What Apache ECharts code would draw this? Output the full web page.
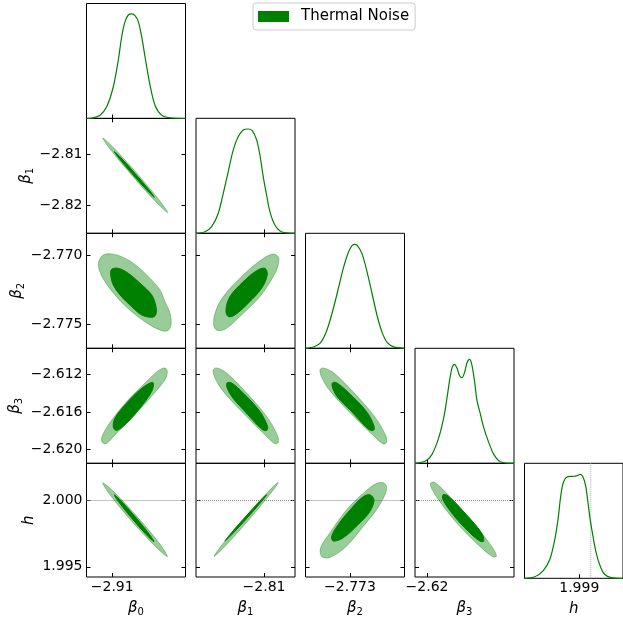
<!DOCTYPE html>
<html><head><meta charset="utf-8">
<script src="https://cdn.jsdelivr.net/npm/echarts@6/dist/echarts.min.js"></script>
<style>html,body{margin:0;padding:0;background:#fff}#c{width:623px;height:618px}</style>
</head><body><div id="c"></div>
<script>
// ---------- data ----------
const seriesName = 'Thermal Noise';
const paramNames = ['{g|β}{s|0}', '{g|β}{s|1}', '{g|β}{s|2}', '{g|β}{s|3}', '{g|h}'];
const b0Range = [-2.91257, -2.90267];
const b1Range = [-2.8254, -2.8030];
const b2Range = [-2.77675, -2.76841];
const b3Range = [-2.62150, -2.60917];
const hRange = [1.99423, 2.00281];
const hTruth = 2.0;

const b0TicksX = [-2.91], b0LabelsX = ['−2.91'];
const b1TicksX = [-2.81], b1LabelsX = ['−2.81'];
const b1TicksY = [-2.81, -2.82], b1LabelsY = ['−2.81', '−2.82'];
const b2TicksX = [-2.773], b2LabelsX = ['−2.773'];
const b2TicksY = [-2.770, -2.775], b2LabelsY = ['−2.770', '−2.775'];
const b3TicksX = [-2.62], b3LabelsX = ['−2.62'];
const b3TicksY = [-2.612, -2.616, -2.620], b3LabelsY = ['−2.612', '−2.616', '−2.620'];
const hTicksX = [1.999], hLabelsX = ['1.999'];
const hTicksY = [2.000, 1.995], hLabelsY = ['2.000', '1.995'];

// 1D marginal densities (relative)
const b0Dens = [[-2.91257,0],[-2.91189,0.006],[-2.91122,0.029],[-2.91055,0.102],[-2.90989,0.276],[-2.90939,0.508],[-2.90905,0.711],[-2.90872,0.842],[-2.90839,0.900],[-2.90805,0.909],[-2.90772,0.894],[-2.90739,0.842],[-2.90705,0.711],[-2.90672,0.537],[-2.90622,0.290],[-2.90572,0.116],[-2.90505,0.029],[-2.90422,0.006],[-2.90267,0]];
const b1Dens = [[-2.82540,0],[-2.82337,0.014],[-2.82185,0.058],[-2.82036,0.174],[-2.81923,0.348],[-2.81810,0.536],[-2.81697,0.725],[-2.81584,0.841],[-2.81471,0.899],[-2.81358,0.907],[-2.81268,0.893],[-2.81168,0.812],[-2.81094,0.681],[-2.81019,0.493],[-2.80943,0.333],[-2.80868,0.188],[-2.80755,0.072],[-2.80604,0.014],[-2.80303,0]];
const b2Dens = [[-2.77675,0],[-2.77603,0.014],[-2.77547,0.049],[-2.77492,0.165],[-2.77435,0.368],[-2.77393,0.542],[-2.77351,0.716],[-2.77309,0.846],[-2.77267,0.904],[-2.77239,0.896],[-2.77197,0.817],[-2.77155,0.658],[-2.77113,0.470],[-2.77071,0.281],[-2.77029,0.136],[-2.76986,0.049],[-2.76930,0.012],[-2.76841,0]];
const b3Dens = [[-2.62150,0],[-2.62020,0.020],[-2.61938,0.078],[-2.61854,0.223],[-2.61792,0.397],[-2.61751,0.571],[-2.61717,0.730],[-2.61688,0.832],[-2.61659,0.861],[-2.61626,0.826],[-2.61593,0.759],[-2.61564,0.745],[-2.61534,0.788],[-2.61502,0.875],[-2.61472,0.904],[-2.61443,0.861],[-2.61409,0.716],[-2.61377,0.542],[-2.61335,0.426],[-2.61294,0.310],[-2.61231,0.180],[-2.61169,0.078],[-2.61086,0.014],[-2.60917,0]];
const hDens = [[1.99423,0],[1.99513,0.014],[1.99585,0.064],[1.99644,0.165],[1.99687,0.339],[1.99715,0.513],[1.99735,0.687],[1.99753,0.803],[1.99774,0.861],[1.99802,0.884],[1.99845,0.887],[1.99874,0.890],[1.99909,0.904],[1.99932,0.884],[1.99956,0.803],[1.99976,0.658],[1.99995,0.513],[2.00019,0.368],[2.00047,0.223],[2.00082,0.107],[2.00120,0.035],[2.00178,0.006],[2.00281,0]];

// 2D credible contours (outer = 95%, inner = 68%), vertices
const b0b1Outer = [[-2.91095,-2.80683],[-2.90984,-2.80878],[-2.90751,-2.81378],[-2.90529,-2.81895],[-2.90445,-2.82136],[-2.90556,-2.81942],[-2.90789,-2.81442],[-2.91011,-2.80924]];
const b0b1Inner = [[-2.90979,-2.8095],[-2.90912,-2.8107],[-2.9077,-2.81378],[-2.90632,-2.81693],[-2.90579,-2.81837],[-2.90645,-2.81716],[-2.90788,-2.81409],[-2.90925,-2.81094]];
const b0b2Outer = [[-2.91135,-2.77047],[-2.91089,-2.76998],[-2.91005,-2.76991],[-2.90905,-2.77011],[-2.90789,-2.77058],[-2.90655,-2.77143],[-2.90522,-2.77252],[-2.90472,-2.77337],[-2.90422,-2.77421],[-2.90412,-2.77506],[-2.90445,-2.77547],[-2.90505,-2.77547],[-2.90605,-2.77513],[-2.90722,-2.77457],[-2.90855,-2.77377],[-2.90972,-2.77288],[-2.91072,-2.77192],[-2.91129,-2.77107]];
const b0b2Inner = [[-2.91005,-2.77102],[-2.90939,-2.77095],[-2.90839,-2.77131],[-2.90722,-2.77203],[-2.90605,-2.77288],[-2.90562,-2.77373],[-2.90565,-2.77433],[-2.90605,-2.7745],[-2.90705,-2.77433],[-2.90805,-2.77373],[-2.90922,-2.77288],[-2.90989,-2.77216],[-2.91015,-2.77143]];
const b1b2Outer = [[-2.80680,-2.77011],[-2.80830,-2.76993],[-2.81168,-2.77058],[-2.81546,-2.77167],[-2.81923,-2.77300],[-2.82111,-2.77421],[-2.82133,-2.77518],[-2.82036,-2.77547],[-2.81846,-2.77529],[-2.81471,-2.77421],[-2.81094,-2.77300],[-2.80793,-2.77156],[-2.80680,-2.77071]];
const b1b2Inner = [[-2.80981,-2.77095],[-2.81168,-2.77112],[-2.81471,-2.77192],[-2.81772,-2.77300],[-2.81862,-2.77397],[-2.81810,-2.77445],[-2.81659,-2.77433],[-2.81358,-2.77348],[-2.81055,-2.77240],[-2.80929,-2.77143]];
const b0b3Outer = [[-2.90472,-2.61128],[-2.90449,-2.61165],[-2.90472,-2.61254],[-2.90622,-2.61450],[-2.90789,-2.61647],[-2.90955,-2.61825],[-2.91062,-2.61940],[-2.91105,-2.61915],[-2.91095,-2.61844],[-2.90989,-2.61665],[-2.90822,-2.61450],[-2.90655,-2.61272],[-2.90539,-2.61157]];
const b0b3Inner = [[-2.90589,-2.61289],[-2.90605,-2.61379],[-2.90722,-2.61557],[-2.90855,-2.61718],[-2.90955,-2.61798],[-2.90989,-2.61761],[-2.90972,-2.61665],[-2.90855,-2.61504],[-2.90722,-2.61361],[-2.90622,-2.61289]];
const b1b3Outer = [[-2.82149,-2.61147],[-2.82072,-2.61128],[-2.81846,-2.61182],[-2.81394,-2.61397],[-2.80943,-2.61647],[-2.80703,-2.61844],[-2.80680,-2.61926],[-2.80755,-2.61940],[-2.80981,-2.61844],[-2.81471,-2.61611],[-2.81923,-2.61379],[-2.82111,-2.61236]];
const b1b3Inner = [[-2.81833,-2.61286],[-2.81733,-2.61289],[-2.81471,-2.61397],[-2.81094,-2.61594],[-2.80920,-2.61755],[-2.80943,-2.61798],[-2.81055,-2.61783],[-2.81433,-2.61594],[-2.81733,-2.61433],[-2.81846,-2.61326]];
const b2b3Outer = [[-2.77553,-2.61147],[-2.77524,-2.61128],[-2.77435,-2.61182],[-2.77265,-2.61397],[-2.77094,-2.61647],[-2.77002,-2.61844],[-2.76992,-2.61926],[-2.77023,-2.61940],[-2.77111,-2.61844],[-2.77296,-2.61611],[-2.77465,-2.61379],[-2.77536,-2.61236]];
const b2b3Inner = [[-2.77446,-2.61286],[-2.77410,-2.61289],[-2.77309,-2.61397],[-2.77162,-2.61594],[-2.77096,-2.61755],[-2.77104,-2.61798],[-2.77146,-2.61783],[-2.77288,-2.61594],[-2.77410,-2.61433],[-2.77450,-2.61326]];
const b0hOuter = [[-2.91095,2.00134],[-2.90979,2.00063],[-2.90746,1.99873],[-2.90527,1.99676],[-2.90449,1.99578],[-2.90565,1.99652],[-2.90799,1.99839],[-2.91017,2.00039]];
const b0hInner = [[-2.90979,2.00043],[-2.90910,1.99996],[-2.90767,1.99875],[-2.90632,1.99749],[-2.90582,1.99690],[-2.90651,1.99736],[-2.90794,1.99857],[-2.90929,1.99983]];
const b1hOuter = [[-2.82133,1.99578],[-2.81887,1.99654],[-2.81367,1.99846],[-2.80870,2.00045],[-2.80680,2.00137],[-2.80926,2.00061],[-2.81446,1.99869],[-2.81943,1.99670]];
const b1hInner = [[-2.81885,1.99694],[-2.81731,1.99743],[-2.81397,1.99863],[-2.81072,1.99987],[-2.80943,2.00043],[-2.81096,1.99994],[-2.81431,1.99873],[-2.81755,1.99750]];
const b2hOuter = [[-2.77020,2.00134],[-2.76992,2.00105],[-2.77006,2.00043],[-2.77076,1.99931],[-2.77188,1.99806],[-2.77328,1.99657],[-2.77469,1.99570],[-2.77539,1.99578],[-2.77547,1.99645],[-2.77469,1.99757],[-2.77328,1.99931],[-2.77188,2.00055],[-2.77076,2.00130]];
const b2hInner = [[-2.77132,2.00043],[-2.77098,2.00005],[-2.77132,1.99918],[-2.77231,1.99819],[-2.77357,1.99719],[-2.77441,1.99694],[-2.77454,1.99731],[-2.77399,1.99819],[-2.77286,1.99943],[-2.77188,2.00030]];
const b3hOuter = [[-2.61958,2.00130],[-2.61904,2.00137],[-2.61717,2.00030],[-2.61427,1.99831],[-2.61198,1.99657],[-2.61135,1.99582],[-2.61178,1.99575],[-2.61302,1.99632],[-2.61593,1.99806],[-2.61842,1.99993],[-2.61945,2.00093]];
const b3hInner = [[-2.61801,2.00043],[-2.61738,2.00035],[-2.61509,1.99893],[-2.61322,1.99757],[-2.61294,1.99694],[-2.61343,1.99694],[-2.61489,1.99769],[-2.61676,1.99893],[-2.61801,2.00005]];

// ---------- layout / style ----------
const colLeft = [86.5, 196, 305.5, 415, 524.5];
const rowTop = [3.5, 118.3, 233.3, 348.3, 463.3];
const W = 99, H = 115;
const yNameGap = [0, 51, 60, 62, 48];
const ranges = [b0Range, b1Range, b2Range, b3Range, hRange];
const xTicks = [b0TicksX, b1TicksX, b2TicksX, b3TicksX, hTicksX];
const xLabels = [b0LabelsX, b1LabelsX, b2LabelsX, b3LabelsX, hLabelsX];
const yTicks = [null, b1TicksY, b2TicksY, b3TicksY, hTicksY];
const yLabels = [null, b1LabelsY, b2LabelsY, b3LabelsY, hLabelsY];
const dens = [b0Dens, b1Dens, b2Dens, b3Dens, hDens];
const contours = {
  '1,0': [b0b1Outer, b0b1Inner],
  '2,0': [b0b2Outer, b0b2Inner], '2,1': [b1b2Outer, b1b2Inner],
  '3,0': [b0b3Outer, b0b3Inner], '3,1': [b1b3Outer, b1b3Inner], '3,2': [b2b3Outer, b2b3Inner],
  '4,0': [b0hOuter, b0hInner], '4,1': [b1hOuter, b1hInner], '4,2': [b2hOuter, b2hInner], '4,3': [b3hOuter, b3hInner]
};
const FONT = 'DejaVu Sans';
const lab = (ticks, labels) => v => {
  for (let k = 0; k < ticks.length; k++) if (Math.abs(ticks[k] - v) < 1e-9) return labels[k];
  return '';
};
const nameStyle = {
  fontFamily: FONT, fontSize: 15, color: '#000',
  rich: {
    g: { fontFamily: FONT, fontSize: 15, fontStyle: 'italic', color: '#000', lineHeight: 18 },
    s: { fontFamily: FONT, fontSize: 10, color: '#000', lineHeight: 8, verticalAlign: 'bottom' }
  }
};
const tick = vals => ({ show: true, inside: true, length: 4, customValues: vals, lineStyle: { color: '#000', width: 1 } });
const labelStyle = { fontFamily: FONT, fontSize: 14, color: '#000' };

const grids = [], xAxes = [], yAxes = [], series = [];
let legendAssigned = false;
for (let i = 0; i < 5; i++) {
  for (let j = 0; j <= i; j++) {
    const g = grids.length;
    grids.push({ left: colLeft[j], top: rowTop[i], width: W, height: H, show: true,
      borderColor: '#000', borderWidth: 1, backgroundColor: 'transparent' });
    const xi = xAxes.length;
    xAxes.push({ type: 'value', gridIndex: g, position: 'bottom', min: ranges[j][0], max: ranges[j][1],
      axisLine: { show: false }, splitLine: { show: false },
      axisTick: tick(xTicks[j]),
      axisLabel: { show: i === 4, customValues: xTicks[j], formatter: lab(xTicks[j], xLabels[j]), margin: 3, ...labelStyle },
      name: i === 4 ? paramNames[j] : '', nameLocation: 'middle', nameGap: 22, nameTextStyle: nameStyle });
    const yi = yAxes.length;
    if (i === j) {
      yAxes.push({ type: 'value', gridIndex: g, min: 0, max: 1, show: false });
      series.push({ type: 'line', xAxisIndex: xi, yAxisIndex: yi, data: dens[i], smooth: 0.3,
        symbol: 'none', silent: true, lineStyle: { color: '#008000', width: 1.2 } });
      if (i === 4) {
        series.push({ type: 'line', xAxisIndex: xi, yAxisIndex: yi, data: [[hTruth, 0], [hTruth, 1]],
          symbol: 'none', silent: true, z: 1, lineStyle: { color: '#aaa', width: 1, type: 'dotted' } });
      }
    } else {
      xAxes.push({ type: 'value', gridIndex: g, position: 'top', min: ranges[j][0], max: ranges[j][1],
        axisLine: { show: false }, splitLine: { show: false }, axisTick: tick(xTicks[j]), axisLabel: { show: false } });
      yAxes.push({ type: 'value', gridIndex: g, position: 'left', min: ranges[i][0], max: ranges[i][1],
        axisLine: { show: false }, splitLine: { show: false },
        axisTick: tick(yTicks[i]),
        axisLabel: { show: j === 0, customValues: yTicks[i], formatter: lab(yTicks[i], yLabels[i]), margin: 4, ...labelStyle },
        name: j === 0 ? paramNames[i] : '', nameLocation: 'middle', nameRotate: 90, nameGap: yNameGap[i], nameTextStyle: nameStyle });
      yAxes.push({ type: 'value', gridIndex: g, position: 'right', min: ranges[i][0], max: ranges[i][1],
        axisLine: { show: false }, splitLine: { show: false }, axisTick: tick(yTicks[i]), axisLabel: { show: false } });
      if (i === 4) {
        series.push({ type: 'line', xAxisIndex: xi, yAxisIndex: yi, data: [[ranges[j][0], hTruth], [ranges[j][1], hTruth]],
          symbol: 'none', silent: true, z: 1, lineStyle: { color: '#888', width: 1, type: 'dotted' } });
      }
      const pair = contours[i + ',' + j];
      pair.forEach((poly, k) => {
        const outer = k === 0;
        const s = { type: 'custom', xAxisIndex: xi, yAxisIndex: yi, data: poly, silent: true, z: 2,
          renderItem: (p, api) => {
            if (p.dataIndex !== 0) return null;
            return { type: 'polygon', shape: { points: poly.map(v => api.coord(v)), smooth: 0.35 },
              style: { fill: outer ? 'rgba(0,128,0,0.4)' : '#008000', stroke: outer ? 'rgba(0,128,0,0.35)' : '#008000', lineWidth: 1 } };
          },
          itemStyle: { color: '#008000' } };
        if (!outer && !legendAssigned) { s.name = seriesName; legendAssigned = true; }
        series.push(s);
      });
    }
  }
}

const chart = echarts.init(document.getElementById('c'), null, { renderer: 'canvas', width: 623, height: 618 });
chart.setOption({
  animation: false,
  backgroundColor: '#fff',
  legend: { data: [{ name: seriesName, icon: 'rect', itemStyle: { color: '#008000' } }], left: 253, top: 3,
    padding: [6, 6, 6, 5], itemWidth: 31, itemHeight: 11, borderColor: '#ccc', borderWidth: 1, borderRadius: 3,
    backgroundColor: '#fff', selectedMode: false,
    textStyle: { fontFamily: FONT, fontSize: 15, color: '#000', padding: [0, 0, 0, 7] } },
  grid: grids, xAxis: xAxes, yAxis: yAxes, series: series
});
</script></body></html>
